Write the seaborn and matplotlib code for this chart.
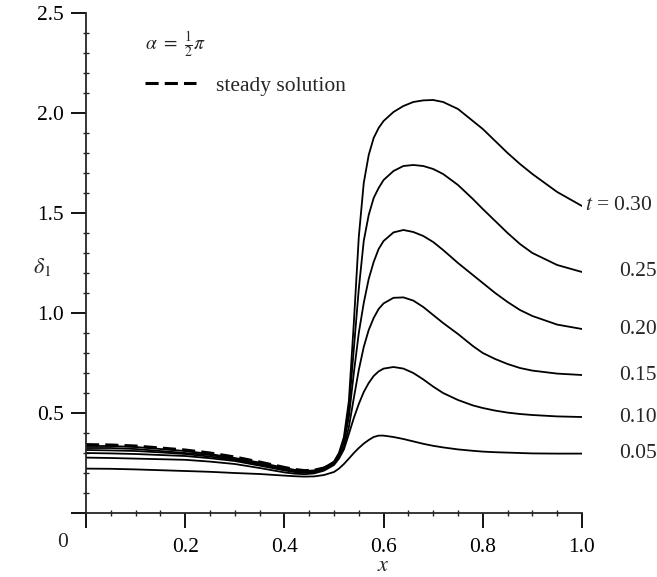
import numpy as np
import pandas as pd
import matplotlib
matplotlib.use("Agg")
import matplotlib.pyplot as plt
import seaborn as sns
from matplotlib.ticker import MultipleLocator, FixedLocator
from matplotlib.lines import Line2D

sns.set_style("ticks")
plt.rcParams["font.family"] = ["Liberation Serif", "DejaVu Serif"]
plt.rcParams["mathtext.fontset"] = "stix"

# ---- data ----
x_grid = [0.0, 0.05, 0.1, 0.15, 0.2, 0.25, 0.3, 0.35, 0.4, 0.42, 0.44, 0.46,
          0.48, 0.5, 0.51, 0.52, 0.53, 0.54, 0.55, 0.56, 0.57, 0.58, 0.59,
          0.6, 0.62, 0.64, 0.66, 0.68, 0.7, 0.72, 0.75, 0.78, 0.8, 0.825,
          0.85, 0.875, 0.9, 0.95, 1.0]

d_t005 = [0.222, 0.221, 0.218, 0.214, 0.210, 0.206, 0.200, 0.195, 0.187, 0.184,
          0.182, 0.183, 0.190, 0.205, 0.222, 0.245, 0.272, 0.300, 0.325, 0.347,
          0.365, 0.380, 0.387, 0.387, 0.380, 0.370, 0.358, 0.346, 0.336, 0.328,
          0.318, 0.311, 0.307, 0.304, 0.302, 0.300, 0.298, 0.297, 0.297]
d_t010 = [0.277, 0.275, 0.272, 0.269, 0.266, 0.257, 0.245, 0.225, 0.203, 0.197,
          0.194, 0.198, 0.212, 0.240, 0.272, 0.318, 0.395, 0.475, 0.545, 0.605,
          0.650, 0.685, 0.708, 0.722, 0.730, 0.722, 0.700, 0.668, 0.632, 0.600,
          0.565, 0.538, 0.525, 0.512, 0.502, 0.495, 0.490, 0.483, 0.480]
d_t015 = [0.300, 0.298, 0.295, 0.290, 0.285, 0.274, 0.260, 0.237, 0.213, 0.205,
          0.201, 0.204, 0.218, 0.245, 0.280, 0.330, 0.430, 0.575, 0.715, 0.830,
          0.915, 0.975, 1.020, 1.048, 1.076, 1.078, 1.062, 1.030, 0.990, 0.950,
          0.895, 0.835, 0.800, 0.770, 0.745, 0.725, 0.712, 0.697, 0.690]
d_t020 = [0.315, 0.313, 0.310, 0.303, 0.295, 0.282, 0.265, 0.242, 0.217, 0.209,
          0.205, 0.208, 0.222, 0.250, 0.290, 0.350, 0.480, 0.700, 0.900, 1.050,
          1.170, 1.255, 1.320, 1.360, 1.403, 1.415, 1.405, 1.385, 1.355, 1.315,
          1.250, 1.190, 1.150, 1.100, 1.055, 1.015, 0.985, 0.942, 0.920]
d_t025 = [0.325, 0.325, 0.320, 0.310, 0.300, 0.290, 0.270, 0.247, 0.222, 0.213,
          0.208, 0.211, 0.225, 0.255, 0.295, 0.360, 0.520, 0.820, 1.120, 1.360,
          1.490, 1.575, 1.625, 1.665, 1.710, 1.735, 1.740, 1.735, 1.720, 1.695,
          1.640, 1.570, 1.520, 1.460, 1.400, 1.345, 1.300, 1.240, 1.205]
d_t030 = [0.335, 0.335, 0.330, 0.320, 0.310, 0.295, 0.275, 0.252, 0.226, 0.216,
          0.210, 0.213, 0.227, 0.257, 0.300, 0.380, 0.560, 0.950, 1.380, 1.650,
          1.790, 1.875, 1.925, 1.960, 2.005, 2.035, 2.055, 2.063, 2.065, 2.055,
          2.020, 1.960, 1.920, 1.860, 1.800, 1.745, 1.695, 1.605, 1.535]

x_steady = [0.0, 0.05, 0.1, 0.15, 0.2, 0.25, 0.3, 0.35, 0.4, 0.42, 0.44, 0.46,
            0.48, 0.5]
d_steady = [0.342, 0.340, 0.335, 0.325, 0.315, 0.300, 0.280, 0.255, 0.228, 0.218,
            0.212, 0.214, 0.225, 0.250]

t_labels = ["0.05", "0.10", "0.15", "0.20", "0.25", "0.30"]
series = [d_t005, d_t010, d_t015, d_t020, d_t025, d_t030]

x_ticks = [0.2, 0.4, 0.6, 0.8, 1.0]
y_ticks = [0.5, 1.0, 1.5, 2.0, 2.5]

# ---- figure ----
fig = plt.figure(figsize=(6.57, 5.77), dpi=100)
ax = fig.add_axes([0.1309, 0.1109, 0.7549, 0.8666])

rows = []
for lab, vals in zip(t_labels, series):
    for xv, yv in zip(x_grid, vals):
        rows.append({"x": xv, "d": yv, "t": lab})
df = pd.DataFrame(rows)

sns.lineplot(data=df, x="x", y="d", units="t", estimator=None, color="black",
             linewidth=1.3, ax=ax, legend=False, sort=False)
sdf = pd.DataFrame({"x": x_steady, "d": d_steady})
sns.lineplot(data=sdf, x="x", y="d", color="black", linewidth=2.2,
             linestyle=(0, (4.3, 2.0)), ax=ax, legend=False, sort=False)

ax.set_xlim(0, 1.0)
ax.set_ylim(0, 2.5)
sns.despine(ax=ax)
for s in ["left", "bottom"]:
    ax.spines[s].set_linewidth(1.3)

ax.xaxis.set_major_locator(FixedLocator([0.0] + x_ticks))
ax.yaxis.set_major_locator(FixedLocator([0.0] + y_ticks))
ax.set_xticklabels([""] + [f"{v:.1f}" for v in x_ticks])
ax.set_yticklabels([""] + [f"{v:.1f}" for v in y_ticks])
ax.xaxis.set_minor_locator(MultipleLocator(0.05))
ax.yaxis.set_minor_locator(MultipleLocator(0.1))
ax.tick_params(axis="both", which="major", direction="out", length=11,
               width=1.3, labelsize=15.5, colors="black")
ax.tick_params(axis="x", which="major", pad=7)
ax.tick_params(axis="y", which="major", pad=5)
ax.tick_params(axis="both", which="minor", direction="inout", length=4, width=1.0)

ax.text(-0.048, -0.058, "0", transform=ax.transAxes, ha="center", va="center",
        fontsize=15.5)

ax.set_xlabel("$x$", fontsize=16)
ax.xaxis.set_label_coords(0.6, -0.088)
ax.set_ylabel(r"$\delta_1$", fontsize=16, rotation=0)
ax.yaxis.set_label_coords(-0.089, 0.47)

ax.text(0.119, 0.938, r"$\alpha\ =\ \frac{1}{2}\pi$", transform=ax.transAxes,
        ha="left", va="center", fontsize=14)

handle = Line2D([], [], color="black", linewidth=2.2, linestyle=(0, (4.3, 2.0)))
ax.legend([handle], ["steady solution"], loc="center left",
          bbox_to_anchor=(0.08, 0.855), frameon=False, fontsize=15.5,
          handlelength=2.35, handletextpad=0.95)

for lab, vals in zip(t_labels, series):
    if lab == "0.30":
        ax.annotate("$t$ = " + lab, xy=(x_grid[-1], vals[-1]),
                    xytext=(2, 0), textcoords="offset points",
                    ha="left", va="center", fontsize=15.5, annotation_clip=False)
    else:
        ax.annotate(lab, xy=(x_grid[-1], vals[-1]),
                    xytext=(27, 0), textcoords="offset points",
                    ha="left", va="center", fontsize=15.5, annotation_clip=False)

fig.savefig("out.png", dpi=100)
